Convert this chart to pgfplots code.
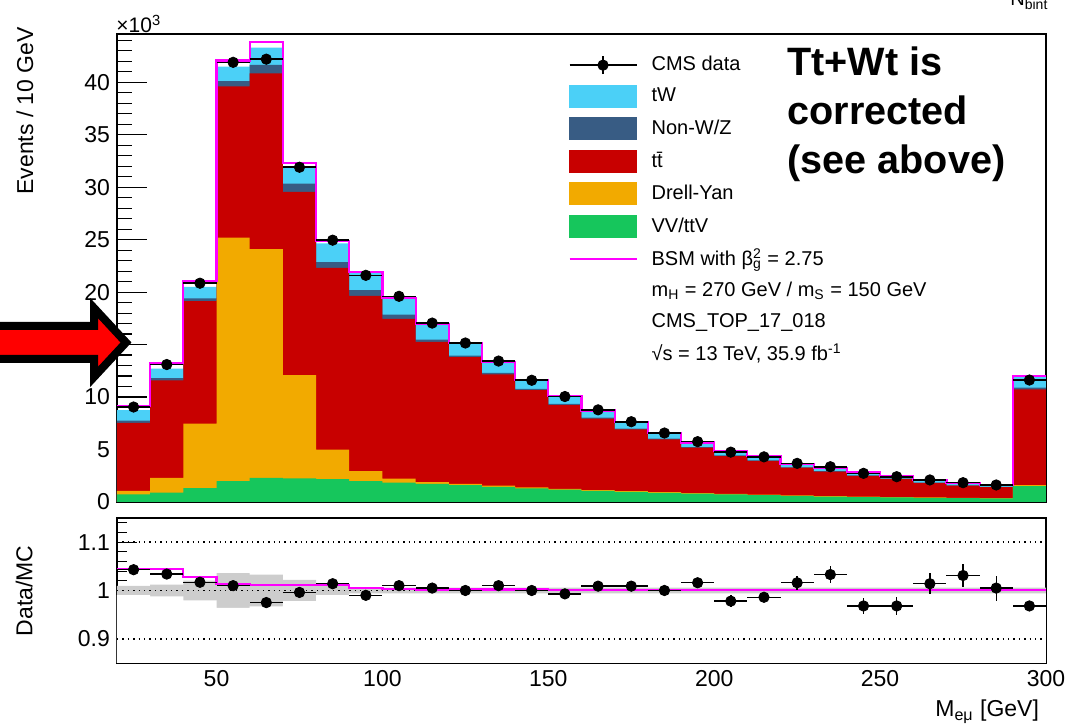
\documentclass[border=0pt]{standalone}
\usepackage{fontspec}
\setmainfont{Liberation Sans}
\usepackage{pgfplots}
\usepackage{pgfplotstable}
\pgfplotsset{compat=1.18}

\definecolor{cTW}{RGB}{75,208,247}
\definecolor{cNW}{RGB}{56,92,132}
\definecolor{cTT}{RGB}{200,0,0}
\definecolor{cDY}{RGB}{242,170,0}
\definecolor{cVV}{RGB}{22,198,92}
\definecolor{cBSM}{RGB}{255,0,255}
\definecolor{cBand}{RGB}{205,205,205}

% cumulative stack tops per bin (x = low edge), ratio band and BSM/MC
\pgfplotstableread{
x   vv   dy    tt    nw    tw    bsm   band   bsmr
20  0.73 1.05  7.55  7.75  8.75  9.14  0.0095 1.044
30  0.89 2.30  11.60 11.80 12.70 13.26 0.012  1.044
40  1.33 7.46  19.15 19.40 20.50 21.07 0.0205 1.028
50  2.00 25.20 39.60 40.10 41.50 42.08 0.036  1.014
60  2.30 24.10 40.85 41.65 43.30 43.82 0.033  1.012
70  2.25 12.10 29.55 30.35 32.00 32.32 0.022  1.011
80  2.19 4.98  22.30 22.85 24.65 24.90 0.0096 1.011
90  2.00 2.95  19.65 20.20 21.80 21.90 0.006  1.005
100 1.84 2.22  17.45 17.85 19.40 19.44 0.006  1.003
110 1.72 1.90  15.27 15.47 16.97 17.00 0.006  1.002
120 1.60 1.72  13.80 13.95 15.15 15.18 0.006  1.002
130 1.45 1.55  12.15 12.30 13.30 13.33 0.006  1.002
140 1.30 1.39  10.67 10.78 11.60 11.62 0.006  1.002
150 1.18 1.26  9.24  9.34  10.10 10.12 0.006  1.001
160 1.07 1.14  7.95  8.05  8.70  8.72  0.006  1.001
170 0.97 1.03  6.92  7.00  7.57  7.59  0.006  1.001
180 0.88 0.93  5.97  6.04  6.56  6.57  0.006  1.001
190 0.80 0.85  5.17  5.23  5.65  5.66  0.006  1.001
200 0.72 0.77  4.38  4.44  4.85  4.86  0.006  1.001
210 0.65 0.69  3.92  3.97  4.35  4.36  0.006  1.001
220 0.58 0.62  3.27  3.31  3.62  3.63  0.006  1.001
230 0.52 0.56  2.89  2.93  3.25  3.26  0.006  1.001
240 0.47 0.50  2.50  2.54  2.82  2.83  0.006  1.001
250 0.43 0.46  2.20  2.23  2.49  2.50  0.006  1.001
260 0.40 0.43  1.82  1.85  2.07  2.08  0.006  1.001
270 0.37 0.40  1.56  1.59  1.78  1.79  0.006  1.001
280 0.34 0.37  1.42  1.45  1.61  1.62  0.006  1.001
290 1.52 1.60  10.73 10.90 12.00 12.03 0.006  1.001
300 1.52 1.60  10.73 10.90 12.00 12.03 0.006  1.001
}\stacktab

% data points at bin centres
\pgfplotstableread{
xc  data  ratio rerr
25  9.05  1.043 0.004
35  13.10 1.034 0.004
45  20.85 1.017 0.004
55  41.90 1.010 0.004
65  42.20 0.975 0.004
75  31.90 0.996 0.004
85  24.95 1.014 0.004
95  21.60 0.990 0.004
105 19.60 1.010 0.004
115 17.05 1.005 0.004
125 15.15 1.000 0.004
135 13.43 1.010 0.004
145 11.60 1.000 0.005
155 10.05 0.993 0.005
165 8.78  1.009 0.006
175 7.65  1.009 0.006
185 6.57  1.000 0.007
195 5.75  1.016 0.008
205 4.75  0.978 0.012
215 4.30  0.986 0.010
225 3.68  1.016 0.014
235 3.36  1.033 0.017
245 2.73  0.968 0.017
255 2.41  0.968 0.018
265 2.10  1.014 0.022
275 1.84  1.031 0.024
285 1.62  1.005 0.026
295 11.62 0.968 0.008
}\datatab

\newcommand\px[2]{({#1*0.5pt},{363.5pt-#2*0.5pt})}

\pgfplotsset{
  cmsaxis/.style={
    scale only axis, anchor=south west,
    width=464.5pt,
    xmin=20, xmax=300,
    xtick={50,100,...,300}, minor xtick={20,30,...,300},
    tick pos=left, tick align=inside,
    every tick/.append style={black, line width=0.6pt},
    axis line style={line width=0.75pt},
    /pgf/number format/assume math mode=true,
    tick label style={font=\fontsize{11.5}{13}\selectfont},
    label style={font=\fontsize{11.5}{13}\selectfont},
  },
  blankimg/.style={legend image code/.code={\path[draw=none, fill=none] (0pt,-5.5pt) rectangle (33.5pt,5.5pt);}},
  boximg/.style={legend image code/.code={\fill[#1] (0pt,-5.5pt) rectangle (33.5pt,5.5pt);}},
}

\begin{document}
\begin{tikzpicture}
\path[use as bounding box] (0,0) rectangle (539pt,363.5pt);
\clip (0,0) rectangle (539pt,363.5pt);

\begin{axis}[cmsaxis,
  at={(58.5pt,112.5pt)}, height=234pt,
  ymin=0, ymax=44.6,
  xticklabels={},
  ytick={0,5,...,40}, minor ytick={0,1,...,44},
  major tick length=15pt, minor tick length=7.5pt,
  xtick style={/pgfplots/major tick length=6pt, /pgfplots/minor tick length=3pt},
  ylabel={Events / 10 GeV},
  ylabel style={at={(axis description cs:-0.099,1.03)}, anchor=east},
  legend style={at={(rel axis cs:0.4855,0.955)}, anchor=north west,
    draw=none, fill=none, inner sep=0pt, row sep=4.9pt, column sep=7pt,
    font=\fontsize{10}{12}\selectfont, nodes={inner sep=0pt}},
  legend cell align=left,
]
\addplot[const plot, fill=cTW, draw=none, forget plot] table[x=x, y=tw] {\stacktab} \closedcycle;
\addplot[const plot, fill=cNW, draw=none, forget plot] table[x=x, y=nw] {\stacktab} \closedcycle;
\addplot[const plot, fill=cTT, draw=none, forget plot] table[x=x, y=tt] {\stacktab} \closedcycle;
\addplot[const plot, fill=cDY, draw=none, forget plot] table[x=x, y=dy] {\stacktab} \closedcycle;
\addplot[const plot, fill=cVV, draw=none, forget plot] table[x=x, y=vv] {\stacktab} \closedcycle;
\addplot[const plot, draw=cBSM, line width=1.1pt, forget plot] table[x=x, y=bsm] {\stacktab};
\addplot[only marks, mark=*, mark size=2.6pt, black, forget plot,
  error bars/.cd, x dir=both, x fixed=5, error mark=none,
  error bar style={line width=0.8pt}] table[x=xc, y=data] {\datatab};

\addlegendimage{legend image code/.code={
  \draw[black, line width=0.7pt] (0pt,0pt) -- (33.5pt,0pt);
  \draw[black, line width=0.7pt] (16.75pt,-4.5pt) -- (16.75pt,4.5pt);
  \fill[black] (16.75pt,0pt) circle (2.6pt);}}
\addlegendentry{CMS data}
\addlegendimage{boximg=cTW}
\addlegendentry{tW}
\addlegendimage{boximg=cNW}
\addlegendentry{Non-W/Z}
\addlegendimage{boximg=cTT}
\addlegendentry{t\={t}}
\addlegendimage{boximg=cDY}
\addlegendentry{Drell-Yan}
\addlegendimage{boximg=cVV}
\addlegendentry{VV/ttV}
\addlegendimage{legend image code/.code={
  \path[draw=none, fill=none] (0pt,-5.5pt) rectangle (33.5pt,5.5pt);
  \draw[cBSM, line width=1.1pt] (0pt,0pt) -- (33.5pt,0pt);}}
\addlegendentry{BSM with β\rlap{\textsuperscript{2}}\textsubscript{g} = 2.75}
\addlegendimage{blankimg}
\addlegendentry{m\textsubscript{H} = 270 GeV / m\textsubscript{S} = 150 GeV}
\addlegendimage{blankimg}
\addlegendentry{CMS\_TOP\_17\_018}
\addlegendimage{blankimg}
\addlegendentry{√s = 13 TeV, 35.9 fb\textsuperscript{-1}}
\end{axis}

\begin{axis}[cmsaxis,
  at={(58.5pt,32pt)}, height=72.5pt,
  ymin=0.85, ymax=1.15,
  ytick={0.9,1,1.1},
  minor ytick={0.86,0.88,0.92,0.94,0.96,0.98,1.02,1.04,1.06,1.08,1.12,1.14},
  major tick length=10pt, minor tick length=5pt,
  xtick style={/pgfplots/major tick length=6pt, /pgfplots/minor tick length=2.5pt},
  ylabel={Data/MC},
  ylabel style={at={(axis description cs:-0.1,0.497)}, anchor=center},
  xlabel={M\textsubscript{eμ} [GeV]},
  xlabel style={at={(axis description cs:1,-0.372)}, anchor=base east},
]
% uncertainty band: upper edge filled grey, lower edge blanked in white
\addplot[const plot, fill=cBand, draw=none, forget plot] table[x=x, y expr=1+\thisrow{band}] {\stacktab} \closedcycle;
\addplot[const plot, fill=white, draw=none, forget plot] table[x=x, y expr=1-\thisrow{band}] {\stacktab} \closedcycle;
\addplot[black, dotted, line width=0.7pt, forget plot] coordinates {(20,1.1) (300,1.1)};
\addplot[black, dotted, line width=0.7pt, forget plot] coordinates {(20,1) (300,1)};
\addplot[black, dotted, line width=0.7pt, forget plot] coordinates {(20,0.9) (300,0.9)};
\addplot[const plot, draw=cBSM, line width=1.1pt, forget plot] table[x=x, y=bsmr] {\stacktab};
\addplot[only marks, mark=*, mark size=2.6pt, black, forget plot,
  error bars/.cd, x dir=both, x fixed=5, y dir=both, y explicit, error mark=none,
  error bar style={line width=0.7pt}] table[x=xc, y=ratio, y error=rerr] {\datatab};
\end{axis}

% x10^3 exponent
\node[anchor=base west, inner sep=0pt, font=\fontsize{10.5}{12}\selectfont] at \px{116}{33} {×10\textsuperscript{3}};
% clipped label at the top right
\node[anchor=base west, inner sep=0pt, font=\fontsize{10}{12}\selectfont] at \px{1010}{6} {N\textsubscript{bint}};

% annotation text
\begin{scope}[every node/.style={anchor=base west, inner sep=0pt, font=\bfseries\fontsize{19.8}{24}\selectfont}]
\node at \px{787}{76} {Tt+Wt is};
\node at \px{787}{125} {corrected};
\node at \px{787}{174} {(see above)};
\end{scope}

% annotation arrow
\draw[fill=red, draw=black, line width=4pt, line join=miter]
  \px{-20}{326} -- \px{94}{326} -- \px{94}{308} -- \px{126}{342.5}
  -- \px{94}{377} -- \px{94}{359} -- \px{-20}{359} -- cycle;
\end{tikzpicture}
\end{document}
